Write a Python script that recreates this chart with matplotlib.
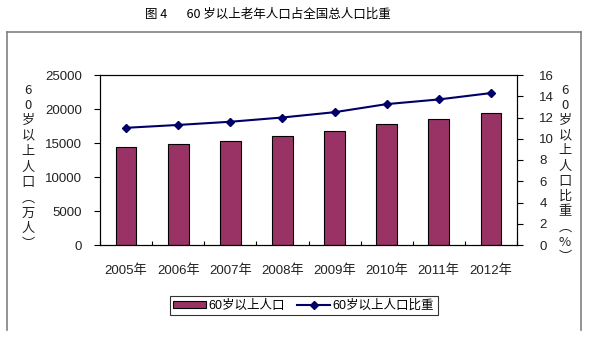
import matplotlib
matplotlib.use("Agg")
import matplotlib.pyplot as plt
from matplotlib.lines import Line2D
import numpy as np

plt.rcParams['font.family'] = ['Liberation Sans', 'Noto Sans CJK SC', 'DejaVu Sans']

years = ['2005年', '2006年', '2007年', '2008年', '2009年', '2010年', '2011年', '2012年']
pop_60 = [14400, 14901, 15340, 15989, 16714, 17765, 18499, 19390]      # 万人
share_60 = [11.03, 11.3, 11.6, 12.0, 12.5, 13.26, 13.7, 14.3]          # %

W, H = 591, 338
fig = plt.figure(figsize=(W / 100, H / 100), dpi=100)

def fx(px):
    return px / W

def fy(py):
    return 1 - py / H

# outer frame (bottom edge cut off)
for xs, ys in [([7, 7], [32, 330]), ([7, 581], [32, 32]), ([581, 581], [32, 330])]:
    fig.add_artist(Line2D([fx(v) for v in xs], [fy(v) for v in ys],
                          color='#808080', lw=1.2))

fig.text(fx(268), fy(14), '图 4       60 岁以上老年人口占全国总人口比重',
         ha='center', va='center', fontsize=9, family=['Noto Sans CJK SC'])

left, right, top, bottom = 100, 517, 75, 245
ax = fig.add_axes([fx(left), fy(bottom), fx(right - left), (bottom - top) / H])
x = np.arange(len(years))
bars = ax.bar(x, pop_60, width=0.4, color='#993366', edgecolor='black', linewidth=0.8,
              label='60岁以上人口', zorder=2)
ax.set_xlim(-0.5, len(years) - 0.5)
ax.set_ylim(0, 25000)
ax.set_yticks(np.arange(0, 25001, 5000))
ax.set_xticks(x)
ax.set_xticklabels(years)
ax.set_xticks(np.arange(-0.5, len(years)), minor=True)
ax.tick_params(axis='x', which='major', length=0, pad=14, labelsize=9.5,
               labelcolor='#222222')
ax.tick_params(axis='x', which='minor', direction='in', length=3, width=0.8)
ax.tick_params(axis='y', direction='out', length=4, width=0.8, labelsize=9.5, pad=9,
               labelcolor='#222222')
for s in ax.spines.values():
    s.set_linewidth(0.8)

ax2 = ax.twinx()
line, = ax2.plot(x, share_60, color='#000066', lw=1.5, marker='D', ms=4.5,
                 label='60岁以上人口比重', zorder=3)
ax2.set_ylim(0, 16)
ax2.set_yticks(np.arange(0, 17, 2))
ax2.tick_params(axis='y', direction='out', length=4, width=0.8, labelsize=9.5, pad=12,
                labelcolor='#222222')
ax2.spines['right'].set_linewidth(0.8)

# stacked vertical axis titles
lab_left = ['6', '0', '岁', '以', '上', '人', '口', '︵', '万', '人', '︶']
for i, ch in enumerate(lab_left):
    fig.text(fx(28), fy(90 + i * 15.4), ch, ha='center', va='center', fontsize=9.5,
             family=['Noto Sans CJK SC'], color='#222222')
lab_right = ['6', '0', '岁', '以', '上', '人', '口', '比', '重', '︵', '%', '︶']
for i, ch in enumerate(lab_right):
    fig.text(fx(565), fy(90 + i * 15.2), ch, ha='center', va='center', fontsize=9.5,
             family=['Noto Sans CJK SC'], color='#222222')

leg = fig.legend(handles=[bars, line], loc='center',
                 bbox_to_anchor=(fx(303.5), fy(305.5)), ncol=2, fontsize=9,
                 frameon=True, fancybox=False, edgecolor='black', borderpad=0.3,
                 handlelength=2.6, handletextpad=0.2, columnspacing=1.0,
                 handleheight=0.5)
leg.get_frame().set_linewidth(0.8)

fig.savefig('out.png', dpi=100)
